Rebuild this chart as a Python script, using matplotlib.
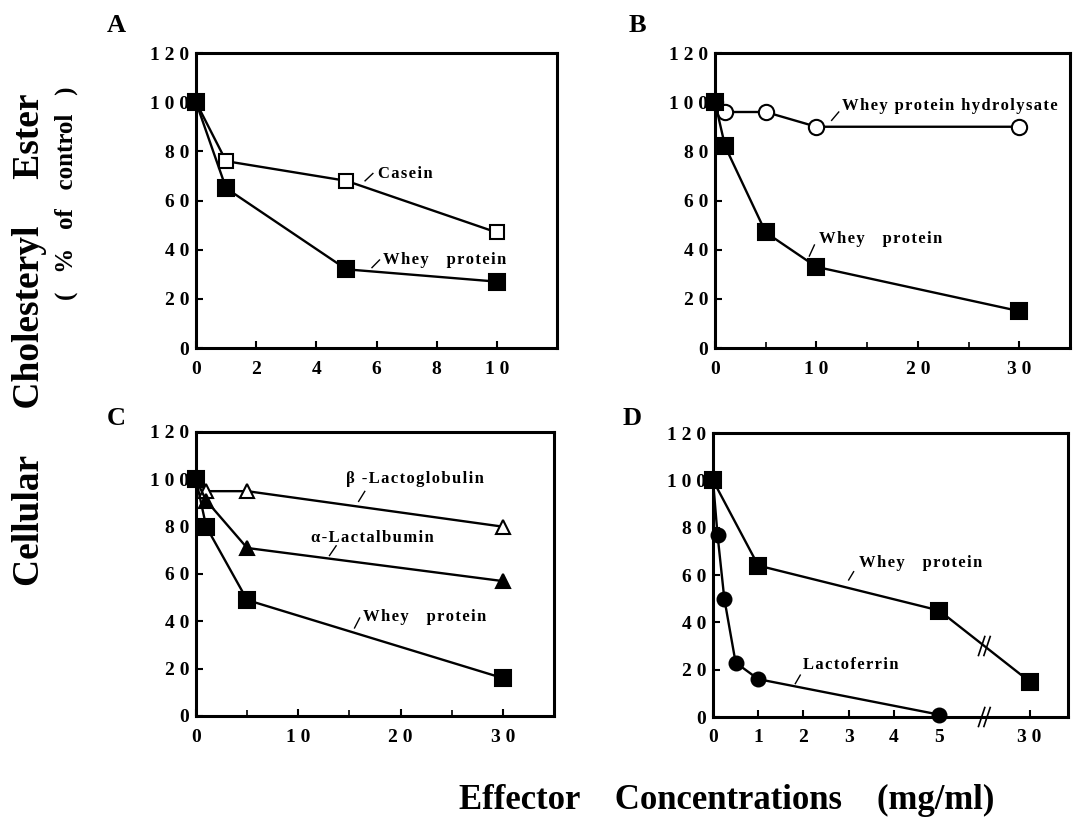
import numpy as np
import matplotlib
matplotlib.use('Agg')
import matplotlib.pyplot as plt

plt.rcParams['font.family'] = ['Liberation Serif', 'DejaVu Serif']
plt.rcParams['font.weight'] = 'bold'

# A : casein vs whey protein
a_x = [0, 1, 5, 10]
a_casein = [100, 76, 68, 47]
a_whey = [100, 65, 32, 27]

# B : whey protein hydrolysate vs whey protein
b_x = [0, 1, 5, 10, 30]
b_hydro = [100, 96, 96, 90, 90]
b_whey = [100, 82, 47, 33, 15]

# C : lactoglobulin / lactalbumin / whey protein
c_x = [0, 1, 5, 30]
c_beta = [100, 95, 95, 80]
c_alpha = [100, 91, 71, 57]
c_whey = [100, 80, 49, 16]

# D : whey protein vs lactoferrin (x axis broken between 5 and 30)
d_whey_x = [0, 1, 5, 30]
d_whey = [100, 64, 45, 15]
d_lf_x = [0, 0.1, 0.25, 0.5, 1, 5]
d_lf = [100, 77, 50, 23, 16, 1]

y_ticks = [0, 20, 40, 60, 80, 100, 120]
y_ticklabels = ['0', '2 0', '4 0', '6 0', '8 0', '1 0 0', '1 2 0']

W, H = 1073, 823
TICK_FS = 14
NOTE_FS = 12


def d_pos(v):
    # position on the broken axis of panel D
    return v if v <= 5 else 7


def px_rect(left, top, right, bottom):
    return [left / W, 1 - bottom / H, (right - left) / W, (bottom - top) / H]


def spaced(s):
    # the old typesetting has loose letter spacing
    return '\u200a'.join(s)


def style(ax, xlim, xticks, xticklabels, xminor=None):
    ax.set_xlim(*xlim)
    ax.set_ylim(0, 120)
    ax.set_yticks(y_ticks)
    ax.set_yticklabels(y_ticklabels, fontsize=TICK_FS, fontweight='bold')
    ax.set_xticks(xticks)
    ax.set_xticklabels(xticklabels, fontsize=TICK_FS, fontweight='bold')
    if xminor is not None:
        ax.set_xticks(xminor, minor=True)
    ax.tick_params(axis='y', direction='in', length=5, width=1.5, pad=5)
    ax.tick_params(axis='x', direction='in', length=5, width=1.5, pad=9)
    ax.tick_params(which='minor', direction='in', length=4, width=1.2)
    for sp in ax.spines.values():
        sp.set_linewidth(2.2)


def line(ax, x, y, marker, filled=True, ms=11, z=3):
    fc = 'black' if filled else 'white'
    ax.plot(x, y, color='black', lw=1.7, marker=marker, ms=ms,
            mfc=fc, mec='black', mew=1.5, zorder=z, clip_on=False)


def note(ax, text, tx, ty, l0, l1):
    ax.text(tx, ty, spaced(text), fontsize=NOTE_FS, fontweight='bold', ha='left', va='center')
    ax.plot([l0[0], l1[0]], [l0[1], l1[1]], color='black', lw=1.0)


fig = plt.figure(figsize=(W / 100, H / 100), dpi=100)

# ---- A
axA = fig.add_axes(px_rect(196, 53, 557, 348))
line(axA, a_x, a_casein, 's', filled=False, ms=10)
line(axA, a_x, a_whey, 's', filled=True, z=4)
style(axA, (0, 12), [0, 2, 4, 6, 8, 10], ['0', '2', '4', '6', '8', '1 0'])
note(axA, 'Casein', 6.05, 70.7, (5.62, 68), (5.88, 71))
note(axA, 'Whey   protein', 6.22, 35.8, (5.85, 32.7), (6.1, 35.8))

# ---- B
axB = fig.add_axes(px_rect(715, 53, 1070, 348))
line(axB, b_x, b_hydro, 'o', filled=False, ms=11)
line(axB, b_x, b_whey, 's', filled=True, z=4)
style(axB, (0, 35), [0, 10, 20, 30], ['0', '1 0', '2 0', '3 0'], xminor=[5, 15, 25])
note(axB, 'Whey protein hydrolysate', 12.5, 98.6, (11.5, 92.6), (12.2, 96))
note(axB, 'Whey   protein', 10.3, 44.3, (9.3, 37.4), (9.8, 41.9))

# ---- C
axC = fig.add_axes(px_rect(196, 432, 554, 716))
line(axC, c_x, c_beta, '^', filled=False, ms=10)
line(axC, c_x, c_alpha, '^', filled=True, ms=10)
line(axC, c_x, c_whey, 's', filled=True, z=4)
style(axC, (0, 35), [0, 10, 20, 30], ['0', '1 0', '2 0', '3 0'], xminor=[5, 15, 25])
note(axC, '\u03b2 -Lactoglobulin', 14.65, 100, (15.9, 90.7), (16.5, 94.9))
note(axC, '\u03b1-Lactalbumin', 11.25, 75.4, (13.05, 67.8), (13.7, 71.9))
note(axC, 'Whey   protein', 16.3, 42, (15.5, 37.2), (16.0, 41.4))

# ---- D
axD = fig.add_axes(px_rect(713, 433, 1068, 717))
line(axD, [d_pos(v) for v in d_lf_x], d_lf, 'o', filled=True, ms=10)
line(axD, [d_pos(v) for v in d_whey_x], d_whey, 's', filled=True, z=4)
style(axD, (0, 7.85), [0, 1, 2, 3, 4, 5, 7], ['0', '1', '2', '3', '4', '5', '3 0'])
note(axD, 'Whey   protein', 3.23, 65, (3.0, 57.9), (3.11, 61.4))
note(axD, 'Lactoferrin', 2.0, 21.9, (1.82, 14.1), (1.93, 17.7))

# break marks: on the x axis and on the whey protein line
brk = 6.0
yb = np.interp(brk, [d_pos(d_whey_x[-2]), d_pos(d_whey_x[-1])], [d_whey[-2], d_whey[-1]])
for off in (-0.06, 0.06):
    axD.plot([brk + off - 0.07, brk + off + 0.07], [-4, 4], color='black', lw=1.2, clip_on=False)
    axD.plot([brk + off - 0.07, brk + off + 0.07], [yb - 4, yb + 4], color='black', lw=1.2)

# panel letters
for letter, (px, py) in zip('ABCD', [(116, 25), (637, 25), (116, 418), (632, 418)]):
    fig.text(px / W, 1 - py / H, letter, fontsize=19, fontweight='bold', ha='center', va='center')

fig.text(30 / W, 1 - 340 / H, 'Cellular     Cholesteryl     Ester', rotation=90,
         fontsize=27, fontweight='bold', ha='center', va='center')
fig.text(66 / W, 1 - 193 / H, '(   %   of   control   )', rotation=90,
         fontsize=18, fontweight='bold', ha='center', va='center')
fig.text(727 / W, 1 - 800 / H, 'Effector    Concentrations    (mg/ml)',
         fontsize=25, fontweight='bold', ha='center', va='center')

fig.savefig('out.png', dpi=100)
